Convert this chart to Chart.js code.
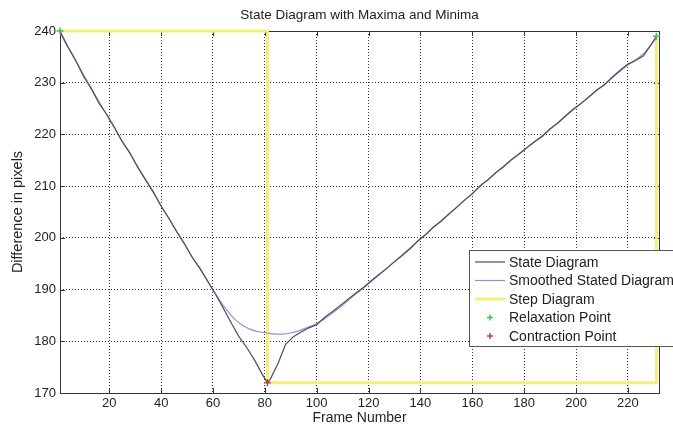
<!DOCTYPE html>
<html>
<head>
<meta charset="utf-8">
<script src="https://cdn.jsdelivr.net/npm/chart.js@4/dist/chart.umd.min.js"></script>
<style>
  html, body { margin: 0; padding: 0; background: #fff; }
  #wrap { width: 673px; height: 427px; }
</style>
</head>
<body>
<div id="wrap"><canvas id="chart" width="673" height="427"></canvas></div>
<script>
const titleText = 'State Diagram with Maxima and Minima';
const xLabel = 'Frame Number';
const yLabel = 'Difference in pixels';
const xTicks = [20, 40, 60, 80, 100, 120, 140, 160, 180, 200, 220];

const stateFrames = [1, 4, 7, 10, 13, 16, 19, 22, 25, 28, 31, 34, 37, 40, 43, 46, 49, 52, 55, 58,
  61, 64, 67, 70, 73, 76, 79, 81, 82, 85, 88, 91, 94, 97, 100, 103, 106, 109, 112, 115,
  118, 121, 124, 127, 130, 133, 136, 139, 142, 145, 148, 151, 154, 157, 160, 163, 166, 169, 172, 175,
  178, 181, 184, 187, 190, 193, 196, 199, 202, 205, 208, 211, 214, 217, 220, 223, 226, 229, 231];
const stateValues = [240.0, 237.0, 234.4, 231.3, 228.9, 226.1, 223.9, 221.4, 218.6, 216.4, 213.6, 211.2, 208.9, 206.1, 203.8, 201.2, 198.9, 196.2, 194.1, 191.6,
  189.1, 186.4, 183.6, 180.9, 178.8, 176.4, 173.6, 172.0, 172.6, 175.6, 179.4, 180.9, 181.8, 182.6, 183.2, 184.6, 185.7, 186.9, 188.1, 189.3,
  190.4, 191.7, 192.9, 194.1, 195.4, 196.6, 197.9, 199.4, 200.6, 202.1, 203.2, 204.6, 205.9, 207.3, 208.5, 210.1, 211.2, 212.6, 213.7, 215.1,
  216.2, 217.4, 218.6, 219.6, 221.1, 222.2, 223.6, 224.9, 226.0, 227.3, 228.6, 229.6, 231.1, 232.4, 233.6, 234.3, 235.2, 237.4, 239.0];

const smoothFrames = [1, 10, 20, 30, 40, 50, 56, 60, 63, 66, 69, 72, 75, 78, 81, 84, 87, 90, 93, 96,
  99, 102, 106, 110, 114, 118, 124, 130, 140, 150, 160, 170, 180, 190, 200, 210, 220, 226, 231];
const smoothValues = [239.6, 231.6, 222.9, 214.6, 206.2, 197.9, 193.2, 189.9, 187.6, 185.6, 184.0, 182.9, 182.2, 181.8, 181.6, 181.4, 181.4, 181.6, 182.0, 182.6,
  183.2, 184.0, 185.4, 187.0, 188.7, 190.3, 192.8, 195.4, 199.8, 204.2, 208.6, 213.0, 217.0, 221.0, 225.2, 229.3, 233.4, 235.6, 238.6];

const stepFrames = [1, 81, 81, 231, 231];
const stepValues = [240, 240, 172, 172, 239];

const relaxFrames = [1, 231];
const relaxValues = [240, 239];
const contractFrames = [81];
const contractValues = [172];

const toPoints = (xs, ys) => xs.map((x, i) => ({ x, y: ys[i] }));

const FONT = 'Liberation Sans, Arial, sans-serif';

const legendPlugin = {
  id: 'matlabLegend',
  afterDraw(chart) {
    const ctx = chart.ctx;
    const bx = 469, by = 250, bw = 230, bh = 96;
    ctx.save();
    ctx.fillStyle = '#fff';
    ctx.fillRect(bx, by, bw, bh);
    ctx.strokeStyle = '#555';
    ctx.lineWidth = 1;
    ctx.strokeRect(bx + 0.5, by + 0.5, bw, bh);
    ctx.font = '14px ' + FONT;
    ctx.textBaseline = 'middle';
    chart.data.datasets.forEach((ds, r) => {
      const y = by + 12 + r * 18.5;
      ctx.strokeStyle = ds.borderColor;
      if (ds.showLine !== false) {
        ctx.lineWidth = ds.borderWidth;
        ctx.beginPath();
        ctx.moveTo(475, y);
        ctx.lineTo(505, y);
        ctx.stroke();
      } else {
        ctx.lineWidth = 1.5;
        ctx.beginPath();
        ctx.moveTo(487, y);
        ctx.lineTo(493, y);
        ctx.moveTo(490, y - 3);
        ctx.lineTo(490, y + 3);
        ctx.stroke();
      }
      ctx.fillStyle = '#222';
      ctx.fillText(ds.label, 509, y + 1);
    });
    ctx.restore();
  },
};

const framePlugin = {
  id: 'matlabFrame',
  beforeDatasetsDraw(chart) {
    const { ctx, chartArea: a, scales } = chart;
    ctx.save();
    ctx.strokeStyle = '#333';
    ctx.lineWidth = 1;
    ctx.strokeRect(a.left + 0.5, a.top + 0.5, a.right - a.left, a.bottom - a.top);
    ctx.beginPath();
    scales.x.ticks.forEach((t) => {
      const px = Math.round(scales.x.getPixelForValue(t.value)) + 0.5;
      ctx.moveTo(px, a.bottom);
      ctx.lineTo(px, a.bottom - 5);
      ctx.moveTo(px, a.top);
      ctx.lineTo(px, a.top + 5);
    });
    scales.y.ticks.forEach((t) => {
      const py = Math.round(scales.y.getPixelForValue(t.value)) + 0.5;
      ctx.moveTo(a.left, py);
      ctx.lineTo(a.left + 5, py);
      ctx.moveTo(a.right, py);
      ctx.lineTo(a.right - 5, py);
    });
    ctx.stroke();
    ctx.restore();
  },
  afterDraw(chart) {
    const { ctx, chartArea: a } = chart;
    ctx.save();
    ctx.font = '13.5px ' + FONT;
    ctx.fillStyle = '#222';
    ctx.textAlign = 'center';
    ctx.textBaseline = 'middle';
    ctx.fillText(titleText, (a.left + a.right) / 2, 15);
    ctx.restore();
  },
};

new Chart(document.getElementById('chart'), {
  type: 'line',
  data: {
    datasets: [
      {
        label: 'State Diagram',
        data: toPoints(stateFrames, stateValues),
        borderColor: '#4e4c62',
        borderWidth: 1.2,
        pointRadius: 0,
        order: 2,
      },
      {
        label: 'Smoothed Stated Diagram',
        data: toPoints(smoothFrames, smoothValues),
        borderColor: '#a884c8',
        borderWidth: 1.2,
        pointRadius: 0,
        cubicInterpolationMode: 'monotone',
        order: 3,
      },
      {
        label: 'Step Diagram',
        data: toPoints(stepFrames, stepValues),
        borderColor: '#f2f07a',
        borderWidth: 3,
        pointRadius: 0,
        clip: 4,
        order: 4,
      },
      {
        label: 'Relaxation Point',
        data: toPoints(relaxFrames, relaxValues),
        borderColor: '#3fbf5a',
        showLine: false,
        pointStyle: 'cross',
        pointRadius: 3.5,
        pointBorderWidth: 1.5,
        clip: 6,
        order: 0,
      },
      {
        label: 'Contraction Point',
        data: toPoints(contractFrames, contractValues),
        borderColor: '#c0444a',
        showLine: false,
        pointStyle: 'cross',
        pointRadius: 3.5,
        pointBorderWidth: 1.5,
        clip: 6,
        order: 1,
      },
    ],
  },
  options: {
    responsive: false,
    animation: false,
    layout: { padding: { top: 31, right: 14, left: 0, bottom: 0 } },
    plugins: {
      legend: { display: false },
      title: { display: false },
      tooltip: { enabled: false },
    },
    scales: {
      x: {
        type: 'linear',
        min: 1,
        max: 232,
        afterBuildTicks: (scale) => {
          scale.ticks = xTicks.map((v) => ({ value: v }));
        },
        afterFit: (scale) => {
          scale.height = 34;
        },
        grid: { color: '#333', lineWidth: 1, drawTicks: false },
        border: { display: false, dash: [1, 2] },
        ticks: { color: '#222', font: { family: FONT, size: 13 }, padding: 3, maxRotation: 0 },
        title: { display: true, text: xLabel, color: '#222', font: { family: FONT, size: 14 }, padding: { top: 0, bottom: 0 } },
      },
      y: {
        min: 170,
        max: 240,
        afterFit: (scale) => {
          scale.width = 60;
        },
        grid: { color: '#333', lineWidth: 1, drawTicks: false },
        border: { display: false, dash: [1, 2] },
        ticks: { stepSize: 10, color: '#222', font: { family: FONT, size: 13 }, padding: 4 },
        title: { display: true, text: yLabel, color: '#222', font: { family: FONT, size: 14.5 }, padding: { top: 9, bottom: 0 } },
      },
    },
  },
  plugins: [framePlugin, legendPlugin],
});
</script>
</body>
</html>
